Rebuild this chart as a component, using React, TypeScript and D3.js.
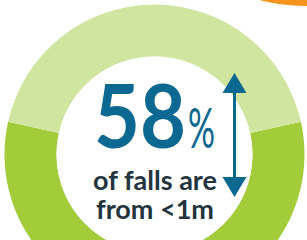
import * as d3 from "d3";

const ringLabels = ["<1m", "other heights"];
const ringValues = [57, 43];
const ringColors = ["#a3cc3a", "#d0e5a0"];

const headline = "58";
const headlineUnit = "%";
const captionLines = ["of falls are", "from <1m"];

const width = 307;
const height = 240;

export default function App() {
  const cx = 154.5;
  const cy = 154.5;
  const outer = 150;
  const inner = 98;

  const total = d3.sum(ringValues);
  const start = Math.PI - (Math.PI * ringValues[0]) / total;
  const pie = d3
    .pie<number>()
    .sort(null)
    .startAngle(start)
    .endAngle(start + 2 * Math.PI);
  const arcs = pie(ringValues);
  const arc = d3.arc<d3.PieArcDatum<number>>().innerRadius(inner).outerRadius(outer);

  // neighbouring orange ring, only its lower rim shows at the top right
  const orangeRing = d3
    .arc()
    .innerRadius(150)
    .outerRadius(200)
    .startAngle(0)
    .endAngle(2 * Math.PI);

  const blue = "#0b6890";
  const ax = 234.5;
  const headTop = 73;
  const headBottom = 197;
  const headLen = 20;
  const headHalf = 12;

  return (
    <svg
      width={width}
      height={height}
      viewBox={`0 0 ${width} ${height}`}
      style={{ position: "absolute", left: 0, top: 0, display: "block" }}
    >
      <rect width={width} height={height} fill="#ffffff" />
      <path d={orangeRing({} as any) ?? ""} transform="translate(308,-194)" fill="#f7941d" />

      <g transform={`translate(${cx},${cy})`}>
        {arcs.map((a, i) => (
          <path key={ringLabels[i]} d={arc(a) ?? ""} fill={ringColors[i]} />
        ))}
        <circle r={inner} fill="#ffffff" />
      </g>

      <text
        x={94}
        y={148}
        fontFamily="Lato, 'Open Sans', sans-serif"
        fontWeight={700}
        fontSize={88}
        fill={blue}
        textLength={92}
        lengthAdjust="spacingAndGlyphs"
      >
        {headline}
      </text>
      <text
        x={188}
        y={148}
        fontFamily="Lato, 'Open Sans', sans-serif"
        fontWeight={400}
        fontSize={57}
        fill={blue}
        textLength={27}
        lengthAdjust="spacingAndGlyphs"
      >
        {headlineUnit}
      </text>

      {captionLines.map((line, i) => (
        <text
          key={line}
          x={155}
          y={190 + i * 28.5}
          textAnchor="middle"
          fontFamily="Lato, 'Open Sans', sans-serif"
          fontWeight={700}
          fontSize={27}
          fill="#23343e"
        >
          {line}
        </text>
      ))}

      <line x1={ax} x2={ax} y1={headTop + headLen - 1} y2={headBottom - headLen + 1} stroke={blue} strokeWidth={3} />
      <path
        d={`M${ax},${headTop} L${ax + headHalf},${headTop + headLen} L${ax - headHalf},${headTop + headLen} Z`}
        fill={blue}
      />
      <path
        d={`M${ax},${headBottom} L${ax + headHalf},${headBottom - headLen} L${ax - headHalf},${headBottom - headLen} Z`}
        fill={blue}
      />
    </svg>
  );
}
